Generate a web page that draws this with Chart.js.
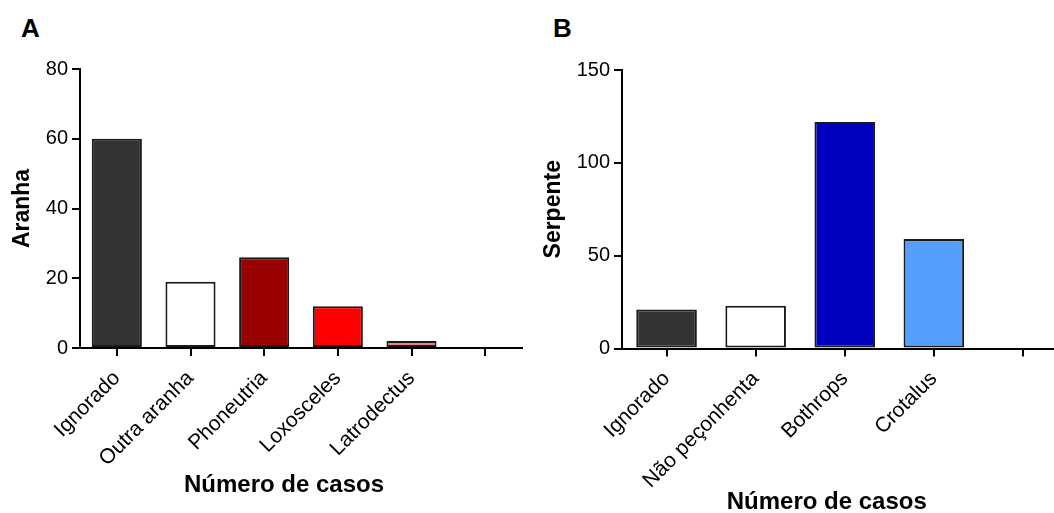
<!DOCTYPE html>
<html>
<head>
<meta charset="utf-8">
<script src="https://cdn.jsdelivr.net/npm/chart.js@4"></script>
<style>
  html, body { margin:0; padding:0; background:#fff; }
  body { width:1054px; height:513px; overflow:hidden; position:relative; font-family: Arial, "Liberation Sans", sans-serif; }
  .panel { position:absolute; top:0; }
  .letter { position:absolute; font: bold 26px/26px Arial, "Liberation Sans", sans-serif; color:#000; }
</style>
</head>
<body>
<div class="letter" style="left:21px; top:15px;">A</div>
<div class="letter" style="left:553px; top:15px;">B</div>
<div class="panel" style="left:0px;"><canvas id="chartA" width="527" height="513"></canvas></div>
<div class="panel" style="left:530px;"><canvas id="chartB" width="540" height="513"></canvas></div>
<script>
// ---- Data ----
const aranhaCategories = ['Ignorado', 'Outra aranha', 'Phoneutria', 'Loxosceles', 'Latrodectus', ''];
const aranhaValues = [60, 19, 26, 12, 2, null];
const aranhaTicks = [0, 20, 40, 60, 80];

const serpenteCategories = ['Ignorado', 'Não peçonhenta', 'Bothrops', 'Crotalus', ''];
const serpenteValues = [21, 23, 122, 59, null];
const serpenteTicks = [0, 50, 100, 150];

const aranhaAxisTitle = 'Aranha';
const serpenteAxisTitle = 'Serpente';
const xAxisTitle = 'Número de casos';

// ---- Styles ----
const aranhaColors = ['#333333', '#ffffff', '#990000', '#ff0000', '#f08080', '#ffffff'];
const serpenteColors = ['#333333', '#ffffff', '#0000bf', '#55a0ff', '#ffffff'];
const FONT = 'Arial, "Liberation Sans", sans-serif';

const xTitlePlugin = {
  id: 'xTitle',
  afterDraw(chart, args, opts) {
    const ctx = chart.ctx;
    ctx.save();
    ctx.font = 'bold 24px ' + FONT;
    ctx.fillStyle = '#000';
    ctx.textAlign = 'center';
    ctx.textBaseline = 'middle';
    const cx = (chart.chartArea.left + chart.chartArea.right) / 2 + opts.dx;
    ctx.fillText(opts.text, cx, opts.y);
    ctx.restore();
  }
};

function makeChart(id, cats, vals, colors, ticks, yTitle, g) {
  const step = ticks[1] - ticks[0];
  return new Chart(document.getElementById(id), {
    type: 'bar',
    data: {
      labels: cats,
      datasets: [{
        data: vals,
        backgroundColor: colors,
        borderColor: '#1a1a1a',
        borderWidth: 2,
        borderSkipped: false,
        categoryPercentage: 1,
        barPercentage: 0.68
      }]
    },
    plugins: [xTitlePlugin],
    options: {
      responsive: false,
      animation: false,
      events: [],
      layout: { padding: { top: g.top, right: g.right, bottom: 0, left: 0 } },
      plugins: {
        legend: { display: false },
        tooltip: { enabled: false },
        xTitle: { text: xAxisTitle, dx: g.titleDx, y: g.titleY }
      },
      scales: {
        x: {
          afterFit: s => { s.height = 513 - g.bottom; },
          border: { display: true, color: '#000', width: 2 },
          grid: { display: true, offset: false, drawOnChartArea: false, drawTicks: true, tickLength: 8, color: '#000', lineWidth: 2 },
          ticks: { autoSkip: false, maxRotation: 45, minRotation: 45, padding: 10, color: '#000', font: { family: FONT, size: 21 } }
        },
        y: {
          min: ticks[0],
          max: ticks[ticks.length - 1],
          afterFit: s => { s.width = g.left; },
          border: { display: true, color: '#000', width: 2 },
          grid: { display: true, drawOnChartArea: false, drawTicks: true, tickLength: 8, color: '#000', lineWidth: 2 },
          ticks: { stepSize: step, padding: 4, color: '#000', font: { family: FONT, size: 20 } },
          title: { display: true, text: yTitle, color: '#000', padding: { top: g.yTitlePad, bottom: 0 }, font: { family: FONT, size: 23, weight: 'bold' } }
        }
      }
    }
  });
}

makeChart('chartA', aranhaCategories, aranhaValues, aranhaColors, aranhaTicks, aranhaAxisTitle,
  { left: 80, top: 69, right: 5, bottom: 348, yTitlePad: 9, titleDx: -17, titleY: 485 });
makeChart('chartB', serpenteCategories, serpenteValues, serpenteColors, serpenteTicks, serpenteAxisTitle,
  { left: 92, top: 70, right: 2.5, bottom: 348.5, yTitlePad: 10, titleDx: -18, titleY: 502 });
</script>
</body>
</html>
